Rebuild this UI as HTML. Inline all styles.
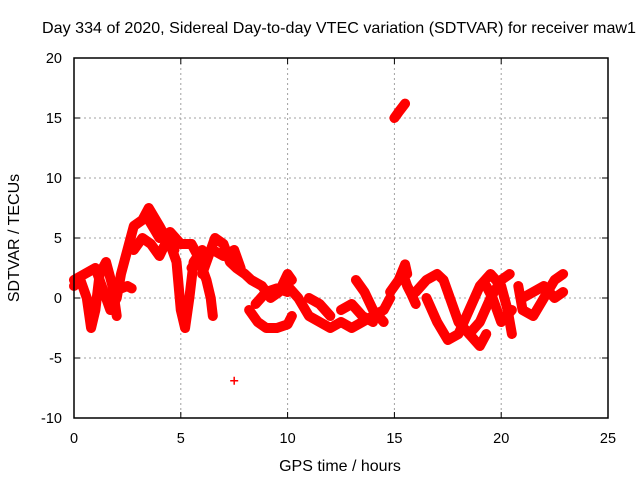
<!DOCTYPE html>
<html><head><meta charset="utf-8"><style>
body{margin:0;background:#fff}
svg{display:block;font-family:"Liberation Sans",sans-serif}
</style></head><body>
<svg id="chart" width="640" height="480" viewBox="0 0 640 480" xmlns="http://www.w3.org/2000/svg">
<text x="339" y="33" font-size="16" text-anchor="middle" textLength="594" lengthAdjust="spacingAndGlyphs">Day 334 of 2020, Sidereal Day-to-day VTEC variation (SDTVAR) for receiver maw1</text>
<text x="340" y="471" font-size="16" text-anchor="middle">GPS time / hours</text>
<text transform="translate(19,238) rotate(-90)" font-size="16" text-anchor="middle">SDTVAR / TECUs</text>
<g id="grid"></g>
<g id="ticks"></g>
<g id="marks"></g>
<rect x="74" y="58" width="534" height="360" fill="none" stroke="#000" stroke-width="1.5"/>
</svg>
<script>
const xTicks=[0,5,10,15,20,25];
const yTicks=[-10,-5,0,5,10,15,20];
const arc1=[[0,1],[0.3,1.5],[0.6,0],[0.8,-2.5],[1.0,-1],[1.2,2],[1.5,3],[1.8,1],[2.0,-1.5]];
const arc2=[[0,1.5],[0.5,2],[1,2.5],[1.5,0],[1.7,-1],[2,0],[2.2,2],[2.5,4],[2.8,6],[3.2,6.5],[3.5,7.5],[4,6],[4.3,5],[4.7,4]];
const arc3=[[2.2,0.8],[2.5,1],[2.7,0.8]];
const arc4=[[2.8,4],[3.2,5],[3.6,4.5],[4.0,3.5],[4.4,5],[4.8,3],[5.0,-1],[5.2,-2.5],[5.4,0],[5.6,3],[6.0,4]];
const arc5=[[3.5,6.5],[4,5],[4.5,5.5],[5,4.5],[5.5,4.5],[5.8,3.5],[6.2,1.5],[6.4,0],[6.5,-1.5]];
const arc6=[[6,2],[6.3,3.5],[6.6,5],[7,4.5],[7.3,3],[7.6,2.5],[8,2],[8.3,1.5],[8.8,1],[9.2,0],[9.6,0.5],[10,2],[10.2,1.5]];
const arc7=[[5.5,2.5],[6.0,3.5],[6.5,4],[7,3.5],[7.5,4],[7.8,2.5]];
const arc8=[[8.5,-0.5],[9,0.5],[9.5,0.8],[10,0.5]];
const arc9=[[8.2,-1],[8.6,-2],[9,-2.5],[9.5,-2.5],[10,-2.2],[10.2,-1.5]];
const arc10=[[10,1],[10.5,0],[11,-1.5],[11.5,-2],[12,-2.5],[12.5,-2],[13,-2.5],[13.5,-2],[14,-1.5],[14.5,-1],[14.8,0]];
const arc11=[[12.5,-1],[13,-0.5],[13.5,-1.5],[14,-2]];
const arc12=[[11,0],[11.5,-0.5],[12,-1.5]];
const arc13=[[13.2,1.5],[13.6,0.5],[14,-1],[14.5,-2]];
const arc14=[[15,15],[15.2,15.5],[15.5,16.2]];
const arc15=[[14.8,0.5],[15.2,1.5],[15.5,2.8],[15.6,2]];
const arc16=[[15.4,2],[15.6,1],[15.8,0.3],[16,-0.5]];
const arc17=[[16,0.5],[16.5,1.5],[17,2],[17.3,1.5],[17.6,0],[18,-2],[18.5,-3],[19,-4],[19.3,-3]];
const arc18=[[16.5,0],[17,-2],[17.5,-3.5],[18,-3],[18.5,-1],[19,1],[19.5,2],[20,1],[20.3,-1],[20.5,-3]];
const arc19=[[18.5,-3],[19,-2],[19.5,0],[20,1.5],[20.4,2]];
const arc20=[[19.3,1],[19.6,0],[20,-2],[20.5,-1]];
const arc21=[[20.8,1],[21,-1],[21.5,-1.5],[22,0],[22.5,1.5],[22.9,2]];
const arc22=[[21,0],[21.5,0.5],[22,1],[22.5,0],[22.9,0.5]];
const arc23=[[7.5,-6.9]];
const arcs=[arc1,arc2,arc3,arc4,arc5,arc6,arc7,arc8,arc9,arc10,arc11,arc12,arc13,arc14,arc15,arc16,arc17,arc18,arc19,arc20,arc21,arc22,arc23];

const X=v=>74+v*534/25, Y=v=>298-v*12;
const NS='http://www.w3.org/2000/svg';
const grid=document.getElementById('grid'),ticks=document.getElementById('ticks'),marks=document.getElementById('marks');
function mk(t,a,p){const e=document.createElementNS(NS,t);for(const k in a)e.setAttribute(k,a[k]);p.appendChild(e);return e;}
xTicks.forEach(v=>{
  if(v>0&&v<25){const g=mk('line',{x1:X(v),x2:X(v),y1:58,y2:418,stroke:'#a0a0a0','stroke-dasharray':'2,3'},grid);
  
  }
  mk('line',{x1:X(v),x2:X(v),y1:418,y2:412,stroke:'#000'},ticks);
  mk('line',{x1:X(v),x2:X(v),y1:58,y2:64,stroke:'#000'},ticks);
  const t=mk('text',{x:X(v),y:443,'font-size':14.5,'text-anchor':'middle'},ticks);t.textContent=v;
  
  
});
yTicks.forEach(v=>{
  if(v>-10&&v<20){const g=mk('line',{x1:74,x2:608,y1:Y(v),y2:Y(v),stroke:'#a0a0a0','stroke-dasharray':'2,3'},grid);
  
  }
  mk('line',{x1:74,x2:80,y1:Y(v),y2:Y(v),stroke:'#000'},ticks);
  mk('line',{x1:602,x2:608,y1:Y(v),y2:Y(v),stroke:'#000'},ticks);
  const t=mk('text',{x:62,y:Y(v)+5,'font-size':14.5,'text-anchor':'end'},ticks);t.textContent=v;
  
  
});
arcs.forEach(a=>{
  if(a.length>1){const pl=mk('polyline',{points:a.map(p=>X(p[0])+','+Y(p[1])).join(' '),fill:'none',stroke:'#ff0000','stroke-width':10,'stroke-linejoin':'round','stroke-linecap':'round'},marks);
  
  }
  a.forEach(p=>{const x=X(p[0]),y=Y(p[1]);
    const m=mk('path',{d:`M${x-4},${y}H${x+4}M${x},${y-4}V${y+4}`,stroke:'#ff0000','stroke-width':1.5},marks);
    
    
  });
});
</script>
</body></html>
